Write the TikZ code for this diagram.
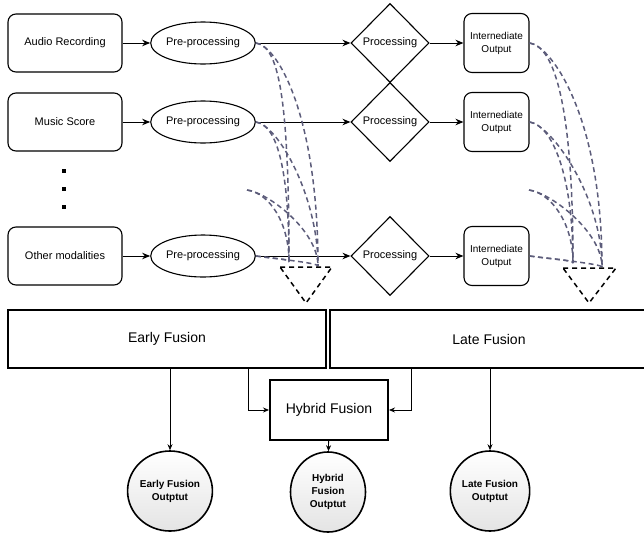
\documentclass[tikz,border=0pt]{standalone}
\usepackage{fontspec}
\setmainfont{Liberation Sans}
\usepackage{tikz}
\usetikzlibrary{shapes.geometric,arrows.meta}

\definecolor{dashgray}{RGB}{92,92,122}
\definecolor{circgray}{RGB}{228,228,228}

\tikzset{
  dcurve/.style={draw=dashgray,line width=1.5pt,dash pattern=on 5pt off 3.5pt,
    to path={.. controls +(22,3) and +(0,-#1) .. (\tikztotarget)}},
  dcurve/.default=60,
  dtri/.style={draw=black,line width=1.5pt,dash pattern=on 5pt off 4pt},
  dotsq/.style={fill=black,minimum size=3.2pt,inner sep=0pt}
}

\begin{document}
\begin{tikzpicture}[x=1pt,y=-1pt,>={Stealth[length=8pt,width=6.5pt]}]
\useasboundingbox (0,0) rectangle (644,533);

	% sources
	\begin{scope}[every node/.style={draw,line width=1.1pt,rounded corners=8pt,minimum width=114pt,minimum height=58pt,font=\fontsize{11}{13}\selectfont}]
    \node (ar) at (65,43) {Audio Recording};
    \node (ms) at (65,122) {Music Score};
    \node (om) at (65,256) {Other modalities};
	\end{scope}
    \node[dotsq] (d1) at (64,171) {};
    \node[dotsq] (d2) at (64,189) {};
    \node[dotsq] (d3) at (64,207) {};

	\begin{scope}[every node/.style={draw,line width=1.1pt,ellipse,minimum width=87pt,minimum height=42pt,inner sep=0pt,font=\fontsize{11}{13}\selectfont}]
    \node (pa) at (203,43) {Pre-processing};
    \node (pb) at (203,122) {Pre-processing};
    \node (pc) at (203,256) {Pre-processing};
	\end{scope}

	\begin{scope}[every node/.style={draw,line width=1.1pt,diamond,minimum width=78pt,minimum height=79pt,inner sep=0pt,font=\fontsize{11}{13}\selectfont}]
    \node (ka) at (390,43) {Processing};
    \node (kb) at (390,122) {Processing};
    \node (kc) at (390,256) {Processing};
	\end{scope}

	\begin{scope}[every node/.style={draw,line width=1.1pt,rounded corners=8pt,minimum width=65pt,minimum height=59pt,inner sep=1pt,align=center,font=\fontsize{10}{13}\selectfont}]
    \node (ia) at (496.5,43) {Internediate\\Output};
    \node (ib) at (496.5,122) {Internediate\\Output};
    \node (ic) at (496.5,256) {Internediate\\Output};
	\end{scope}

	% fusion
	\begin{scope}[every node/.style={draw,line width=2pt,font=\fontsize{14}{16}\selectfont}]
    \node[minimum width=318pt,minimum height=58pt] (ef) at (167,339) {Early Fusion};
    \node[minimum width=318pt,minimum height=58pt] (lf) at (489,339) {Late Fusion};
    \node[minimum width=118pt,minimum height=60pt] (hf) at (329,410) {Hybrid Fusion};
	\end{scope}

	\begin{scope}[every node/.style={draw,line width=1.6pt,ellipse,minimum width=75pt,minimum height=80pt,inner sep=0pt,
                top color=white,bottom color=circgray,align=center,font=\fontsize{10}{13}\selectfont\bfseries}]
    \node (eo) at (170,491) {Early Fusion\\Outptut};
    \node (ho) at (328,492) {Hybrid\\Fusion\\Outptut};
    \node (lo) at (490,491) {Late Fusion\\Outptut};
	\end{scope}

	\begin{scope}[every edge/.style={draw,line width=1pt}]
    \path [->] (ar) edge (pa);
    \path [->] (ms) edge (pb);
    \path [->] (om) edge (pc);
    \path [->] (pa) edge (ka);
    \path [->] (pb) edge (kb);
    \path [->] (pc) edge (kc);
    \path [->] (ka) edge (ia);
    \path [->] (kb) edge (ib);
    \path [->] (kc) edge (ic);
	\end{scope}

	\begin{scope}[line width=.8pt,>={Stealth[length=6pt,width=5pt]}]
    \draw [->] (ef.south -| eo) -- (eo);
    \draw [->] ([xshift=81pt]ef.south) |- (hf.west);
    \draw [->] ([xshift=-78pt]lf.south) |- (hf.east);
    \draw [->] (lf.south -| lo) -- (lo);
    \draw [->] (hf) -- (ho);
	\end{scope}

	% merging
    \coordinate (ga) at (247,190);
    \coordinate (gb) at (529,190);
    \coordinate (ta1) at (289,262);
    \coordinate (ta2) at (318,266);
    \coordinate (tb1) at (573,263);
    \coordinate (tb2) at (602,267);

    \path (pa.east) edge[dcurve=170] (ta1);
    \path (pa.east) edge[dcurve=150] (ta2);
    \path (pb.east) edge[dcurve=90] (ta1);
    \path (pb.east) edge[dcurve=70] (ta2);
    \path (ga) edge[dcurve=40] (ta1);
    \path (ga) edge[dcurve=35] (ta2);
    \path (pc.east) edge[dcurve=3] (ta1);
    \path (pc.east) edge[dcurve=3] (ta2);

    \path (ia.east) edge[dcurve=170] (tb1);
    \path (ia.east) edge[dcurve=150] (tb2);
    \path (ib.east) edge[dcurve=90] (tb1);
    \path (ib.east) edge[dcurve=70] (tb2);
    \path (gb) edge[dcurve=40] (tb1);
    \path (gb) edge[dcurve=35] (tb2);
    \path (ic.east) edge[dcurve=3] (tb1);
    \path (ic.east) edge[dcurve=3] (tb2);

    \draw[dtri] (280,267) -- (332,267) -- (306,303) -- cycle;
    \draw[dtri] (563,268) -- (616,268) -- (589,303) -- cycle;
\end{tikzpicture}
\end{document}
